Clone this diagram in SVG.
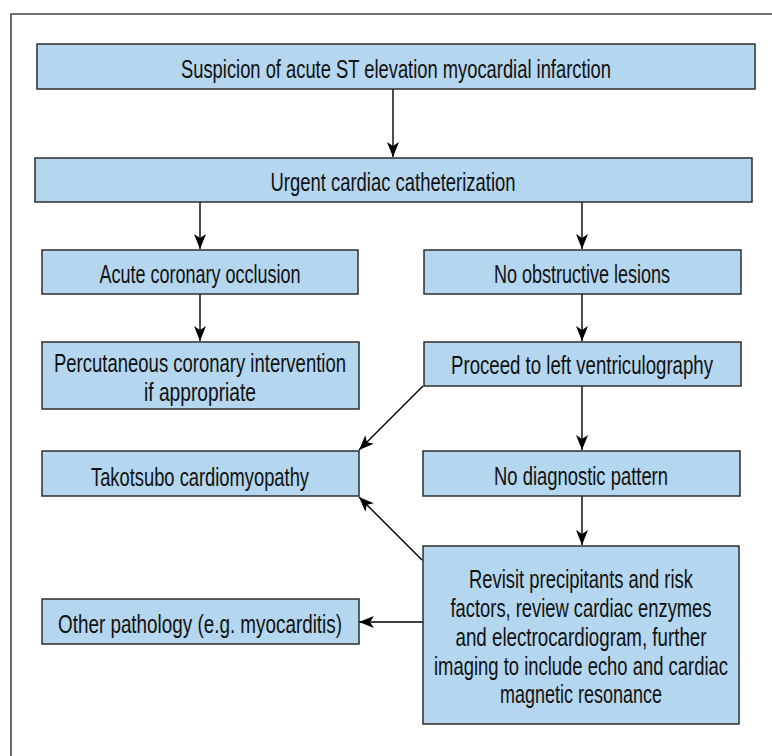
<svg xmlns="http://www.w3.org/2000/svg" width="772" height="756" viewBox="0 0 772 756">
<style>
.box{fill:#b4d6ee;stroke:#2e2e2e;stroke-width:1.5}
.t{font-family:"Liberation Sans Narrow","Liberation Sans","DejaVu Sans Condensed",sans-serif;font-size:26px;fill:#111;text-anchor:middle}
.c{stroke:#000;stroke-width:1.4;fill:none;marker-end:url(#ah)}
</style>
<defs>
<marker id="ah" markerUnits="userSpaceOnUse" viewBox="0 0 15 12" markerWidth="15" markerHeight="12" refX="15" refY="6" orient="auto">
<path d="M0,0 L15,6 L0,12 L4,6 z" fill="#000"/>
</marker>
</defs>
<rect width="772" height="756" fill="#fff"/>
<path d="M772,14 H11 V756" fill="none" stroke="#444" stroke-width="1.6"/>
<g id="connectors">
<line class="c" x1="393" y1="89" x2="393" y2="157"/>
<line class="c" x1="200" y1="202" x2="200" y2="249"/>
<line class="c" x1="582" y1="202" x2="582" y2="249"/>
<line class="c" x1="200" y1="294" x2="200" y2="341"/>
<line class="c" x1="582" y1="294" x2="582" y2="341"/>
<line class="c" x1="582" y1="386" x2="582" y2="450"/>
<line class="c" x1="582" y1="496" x2="582" y2="545"/>
<line class="c" x1="423" y1="386" x2="359" y2="450"/>
<line class="c" x1="422" y1="560" x2="359" y2="497"/>
<line class="c" x1="423" y1="622" x2="359" y2="622"/>
</g>
<g id="n1"><rect class="box" x="37" y="44" width="718" height="45"/><text class="t" x="396" y="78" textLength="430" lengthAdjust="spacingAndGlyphs">Suspicion of acute ST elevation myocardial infarction</text></g>
<g id="n2"><rect class="box" x="35" y="158" width="717" height="44"/><text class="t" x="393" y="191" textLength="245" lengthAdjust="spacingAndGlyphs">Urgent cardiac catheterization</text></g>
<g id="n3"><rect class="box" x="42" y="250" width="316" height="44"/><text class="t" x="200" y="283" textLength="201" lengthAdjust="spacingAndGlyphs">Acute coronary occlusion</text></g>
<g id="n4"><rect class="box" x="424" y="250" width="317" height="44"/><text class="t" x="582" y="283" textLength="176" lengthAdjust="spacingAndGlyphs">No obstructive lesions</text></g>
<g id="n5"><rect class="box" x="42" y="342" width="317" height="67"/><text class="t" x="200" y="372" textLength="292" lengthAdjust="spacingAndGlyphs">Percutaneous coronary intervention</text><text class="t" x="200" y="401" textLength="112" lengthAdjust="spacingAndGlyphs">if appropriate</text></g>
<g id="n6"><rect class="box" x="424" y="342" width="317" height="44"/><text class="t" x="582" y="374" textLength="262" lengthAdjust="spacingAndGlyphs">Proceed to left ventriculography</text></g>
<g id="n7"><rect class="box" x="42" y="451" width="317" height="45"/><text class="t" x="200" y="486" textLength="218" lengthAdjust="spacingAndGlyphs">Takotsubo cardiomyopathy</text></g>
<g id="n8"><rect class="box" x="423" y="451" width="317" height="45"/><text class="t" x="581" y="485" textLength="174" lengthAdjust="spacingAndGlyphs">No diagnostic pattern</text></g>
<g id="n9"><rect class="box" x="423" y="546" width="316" height="178"/>
<text class="t" x="581" y="588" textLength="224" lengthAdjust="spacingAndGlyphs">Revisit precipitants and risk</text>
<text class="t" x="581" y="617" textLength="261" lengthAdjust="spacingAndGlyphs">factors, review cardiac enzymes</text>
<text class="t" x="581" y="646" textLength="251" lengthAdjust="spacingAndGlyphs">and electrocardiogram, further</text>
<text class="t" x="581" y="675" textLength="294" lengthAdjust="spacingAndGlyphs">imaging to include echo and cardiac</text>
<text class="t" x="581" y="703" textLength="162" lengthAdjust="spacingAndGlyphs">magnetic resonance</text></g>
<g id="n10"><rect class="box" x="42" y="599" width="317" height="45"/><text class="t" x="200" y="633" textLength="284" lengthAdjust="spacingAndGlyphs">Other pathology (e.g. myocarditis)</text></g>
</svg>
